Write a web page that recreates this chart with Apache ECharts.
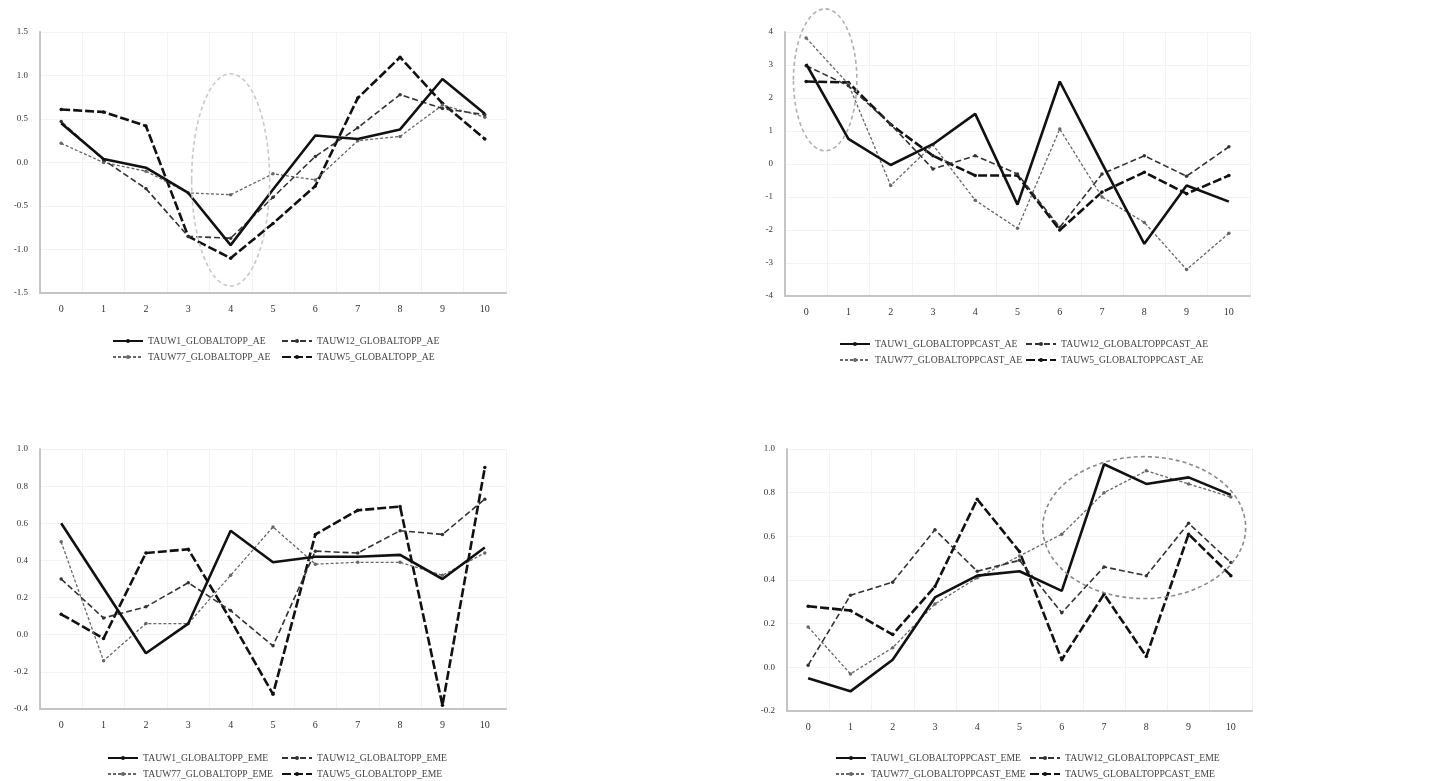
<!DOCTYPE html>
<html>
<head>
<meta charset="utf-8">
<script src="https://cdn.jsdelivr.net/npm/echarts@6/dist/echarts.min.js"></script>
<style>
  html, body { margin: 0; padding: 0; background: #fff; }
  #main { width: 1456px; height: 781px; }
</style>
</head>
<body>
<div id="main"></div>
<script>
// categories shared by all four panels
const cats = ['0', '1', '2', '3', '4', '5', '6', '7', '8', '9', '10']

// panel 1 (top left) : _AE
const names1 = ['TAUW1_GLOBALTOPP_AE', 'TAUW12_GLOBALTOPP_AE', 'TAUW77_GLOBALTOPP_AE', 'TAUW5_GLOBALTOPP_AE']
const p1s1 = [0.45, 0.04, -0.06, -0.35, -0.95, -0.31, 0.31, 0.27, 0.38, 0.96, 0.56]
const p1s2 = [0.47, 0.03, -0.30, -0.85, -0.87, -0.40, 0.07, 0.40, 0.78, 0.62, 0.55]
const p1s3 = [0.22, 0.00, -0.10, -0.35, -0.37, -0.13, -0.20, 0.25, 0.30, 0.66, 0.52]
const p1s4 = [0.61, 0.58, 0.42, -0.85, -1.10, -0.70, -0.27, 0.74, 1.21, 0.68, 0.27]

// panel 2 (top right) : CAST_AE
const names2 = ['TAUW1_GLOBALTOPPCAST_AE', 'TAUW12_GLOBALTOPPCAST_AE', 'TAUW77_GLOBALTOPPCAST_AE', 'TAUW5_GLOBALTOPPCAST_AE']
const p2s1 = [3.03, 0.76, -0.03, 0.60, 1.52, -1.23, 2.50, 0.02, -2.42, -0.65, -1.14]
const p2s2 = [2.98, 2.37, 1.20, -0.15, 0.25, -0.30, -1.92, -0.30, 0.25, -0.37, 0.52]
const p2s3 = [3.82, 2.42, -0.65, 0.58, -1.10, -1.95, 1.06, -1.00, -1.77, -3.20, -2.10]
const p2s4 = [2.50, 2.47, 1.20, 0.25, -0.35, -0.35, -2.00, -0.85, -0.25, -0.90, -0.35]

// panel 3 (bottom left) : _EME
const names3 = ['TAUW1_GLOBALTOPP_EME', 'TAUW12_GLOBALTOPP_EME', 'TAUW77_GLOBALTOPP_EME', 'TAUW5_GLOBALTOPP_EME']
const p3s1 = [0.60, 0.25, -0.10, 0.06, 0.56, 0.39, 0.42, 0.42, 0.43, 0.30, 0.47]
const p3s2 = [0.30, 0.09, 0.15, 0.28, 0.13, -0.06, 0.45, 0.44, 0.56, 0.54, 0.73]
const p3s3 = [0.50, -0.14, 0.06, 0.06, 0.32, 0.58, 0.38, 0.39, 0.39, 0.32, 0.44]
const p3s4 = [0.11, -0.02, 0.44, 0.46, 0.08, -0.32, 0.54, 0.67, 0.69, -0.38, 0.90]

// panel 4 (bottom right) : CAST_EME
const names4 = ['TAUW1_GLOBALTOPPCAST_EME', 'TAUW12_GLOBALTOPPCAST_EME', 'TAUW77_GLOBALTOPPCAST_EME', 'TAUW5_GLOBALTOPPCAST_EME']
const p4s1 = [-0.05, -0.11, 0.035, 0.32, 0.42, 0.44, 0.35, 0.93, 0.84, 0.87, 0.79]
const p4s2 = [0.01, 0.33, 0.39, 0.63, 0.44, 0.49, 0.25, 0.46, 0.42, 0.66, 0.48]
const p4s3 = [0.185, -0.03, 0.09, 0.29, 0.41, 0.51, 0.61, 0.80, 0.90, 0.84, 0.78]
const p4s4 = [0.28, 0.26, 0.15, 0.37, 0.77, 0.53, 0.035, 0.335, 0.05, 0.61, 0.42]

const panels = [
  { names: names1, data: [p1s1, p1s2, p1s3, p1s4], min: -1.5, max: 1.5, interval: 0.5, dec: 1 },
  { names: names2, data: [p2s1, p2s2, p2s3, p2s4], min: -4, max: 4, interval: 1, dec: 0 },
  { names: names3, data: [p3s1, p3s2, p3s3, p3s4], min: -0.4, max: 1.0, interval: 0.2, dec: 1 },
  { names: names4, data: [p4s1, p4s2, p4s3, p4s4], min: -0.2, max: 1.0, interval: 0.2, dec: 1 }
]

const grids = [
  { left: 40, top: 32, width: 466, height: 261 },
  { left: 785, top: 32, width: 465, height: 264 },
  { left: 40, top: 449, width: 466, height: 260 },
  { left: 787, top: 449, width: 465, height: 262 }
]
// legend blocks: [left col 1, left col 2, top row 1, top row 2]
const legendPos = [
  [107, 276, 331, 347],
  [834, 1020, 334, 350],
  [102, 276, 748, 764],
  [830, 1024, 748, 764]
]

// line looks: solid black, dash+dot, light dash, heavy dash
const looks = [
  { color: '#111', width: 2.6, type: 'solid', symbol: 'none' },
  { color: '#333', width: 1.6, type: [6, 3], symbol: 'circle' },
  { color: '#666', width: 1.3, type: [3, 2], symbol: 'circle' },
  { color: '#111', width: 2.6, type: [9, 3], symbol: 'circle' }
]

const font = 'Liberation Serif'

const myChart = echarts.init(document.getElementById('main'))

const xAxis = [], yAxis = [], series = [], legend = []
panels.forEach((p, i) => {
  xAxis.push({
    type: 'category',
    gridIndex: i,
    data: cats,
    boundaryGap: true,
    axisLine: { onZero: false, lineStyle: { color: '#c4c4c4', width: 2 } },
    axisTick: { show: false },
    axisLabel: { color: '#333', fontFamily: font, fontSize: 10, margin: 11 },
    splitLine: { show: true, lineStyle: { color: '#f3f3f3' } }
  })
  yAxis.push({
    type: 'value',
    gridIndex: i,
    min: p.min,
    max: p.max,
    interval: p.interval,
    axisLine: { show: true, onZero: false, lineStyle: { color: '#c4c4c4', width: 2 } },
    axisTick: { show: false },
    axisLabel: {
      color: '#333', fontFamily: font, fontSize: 9, margin: 12,
      formatter: (v) => v.toFixed(p.dec)
    },
    splitLine: { show: true, lineStyle: { color: '#f3f3f3' } }
  })
  p.names.forEach((n, k) => {
    const lk = looks[k]
    series.push({
      name: n,
      type: 'line',
      xAxisIndex: i,
      yAxisIndex: i,
      data: p.data[k],
      symbol: lk.symbol,
      symbolSize: 3.5,
      showSymbol: lk.symbol !== 'none',
      itemStyle: { color: lk.color },
      lineStyle: { color: lk.color, width: lk.width, type: lk.type },
      animation: false,
      z: 10 - k
    })
    // one legend entry per series, laid out 2 x 2
    const lp = legendPos[i]
    legend.push({
      data: [n],
      left: lp[k % 2],
      top: lp[2 + Math.floor(k / 2)],
      itemWidth: 30,
      itemHeight: 5,
      textStyle: { fontFamily: font, fontSize: 9.7, color: '#444' },
      selectedMode: false
    })
  })
})

myChart.setOption({
  backgroundColor: '#fff',
  animation: false,
  grid: grids,
  xAxis: xAxis,
  yAxis: yAxis,
  legend: legend,
  series: series
})

// highlight ellipses, placed through the axes (category positions in steps)
const rings = [
  { g: 0, cx: 4, cy: -0.2, rx: 0.92, ry: 1.22, color: '#c8c8c8' },
  { g: 1, cx: 0.45, cy: 2.55, rx: 0.75, ry: 2.15, color: '#b0b0b0' },
  { g: 3, cx: 7.95, cy: 0.64, rx: 2.4, ry: 0.325, color: '#8a8a8a' }
]
const graphic = rings.map((r) => {
  const a = myChart.convertToPixel({ gridIndex: r.g }, [0, r.cy])
  const b = myChart.convertToPixel({ gridIndex: r.g }, [1, r.cy + r.ry])
  const step = b[0] - a[0]
  return {
    type: 'ellipse',
    shape: { cx: a[0] + step * r.cx, cy: a[1], rx: step * r.rx, ry: Math.abs(a[1] - b[1]) },
    style: { fill: 'none', stroke: r.color, lineWidth: 1.6, lineDash: [4, 3] },
    z: 20
  }
})
myChart.setOption({ graphic: graphic })
</script>
</body>
</html>
